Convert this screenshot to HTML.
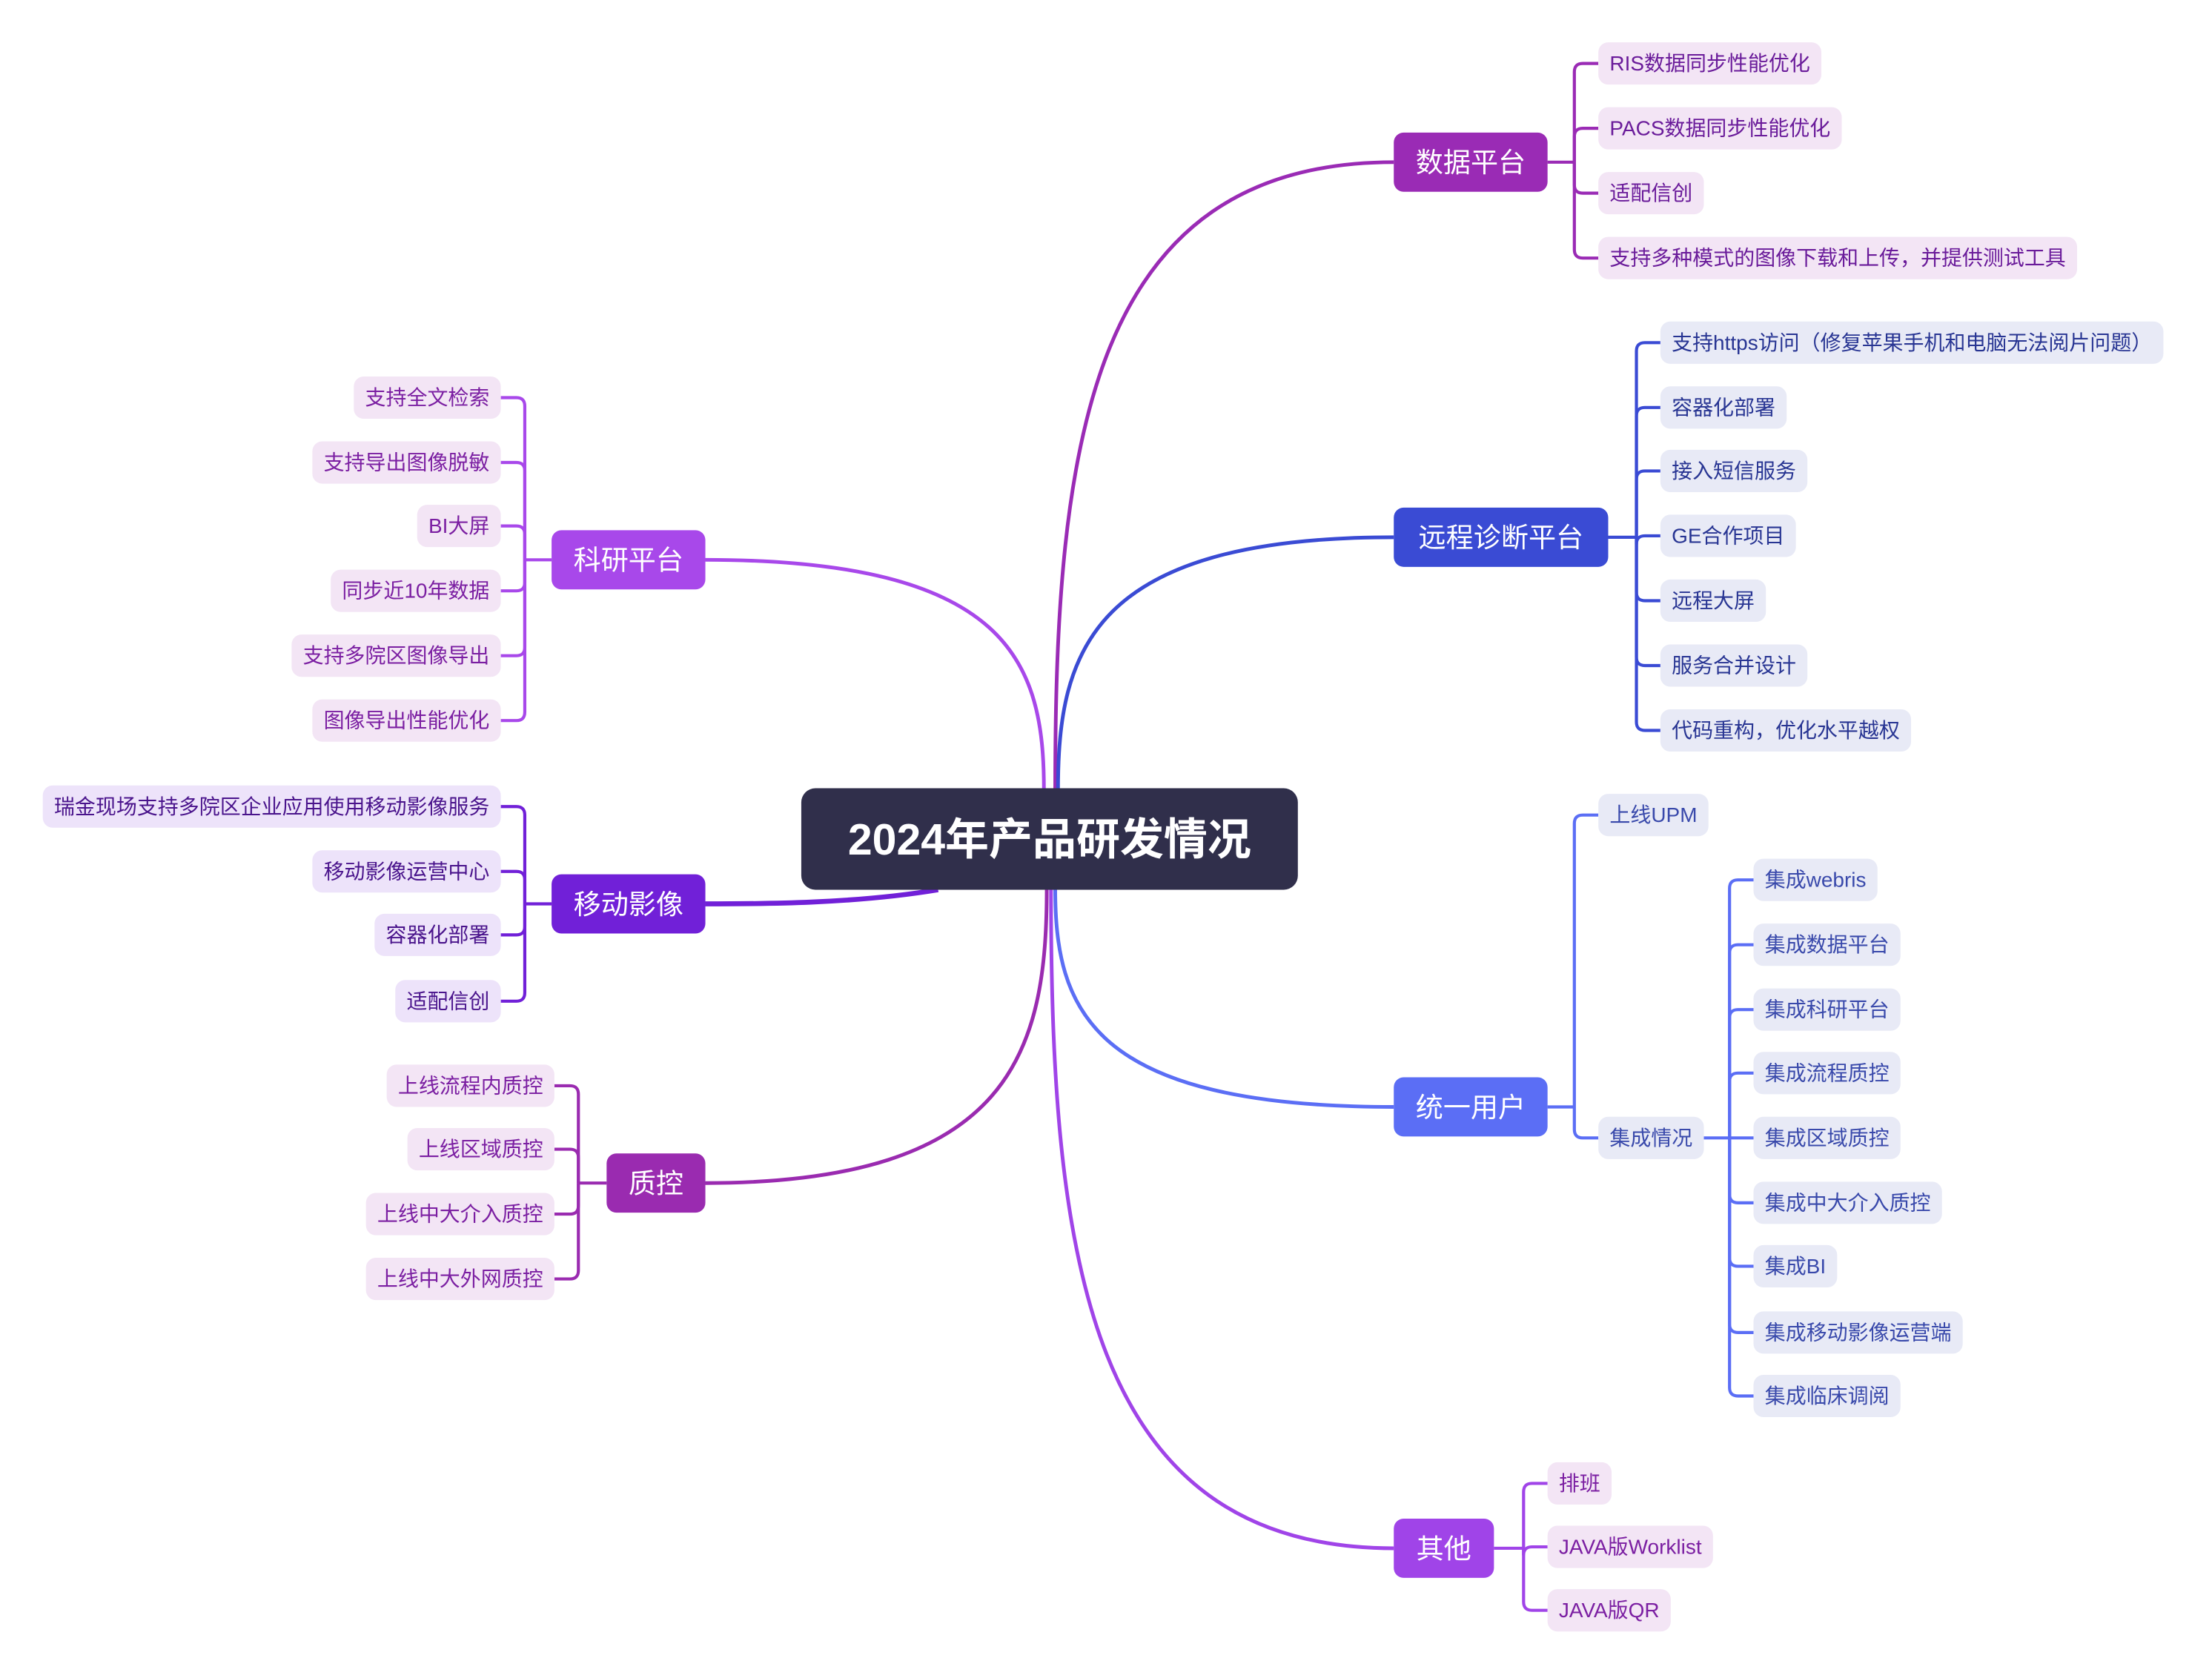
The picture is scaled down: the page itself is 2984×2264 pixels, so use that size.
<!DOCTYPE html>
<html><head><meta charset="utf-8">
<style>
html,body{margin:0;padding:0;background:#fff;}
svg{display:block;}
text{font-family:"Liberation Sans","Noto Sans CJK SC",sans-serif;}
</style></head>
<body>
<svg id="map" width="2984" height="2264" viewBox="0 0 1568 1190" preserveAspectRatio="none" xmlns="http://www.w3.org/2000/svg">
<g id="links"></g>
<g id="nodes"></g>
</svg>
<script>
// Branch data
const branchNames = ["数据平台","远程诊断平台","统一用户","其他","科研平台","移动影像","质控"];
const branchSides = ["R","R","R","R","L","L","L"];
const branchColors = ["#9a2bb5","#3a4bd4","#5b6ef5","#a044e8","#a848ea","#7120d8","#9a2bb0"];
const branchBox = [[988,94,109],[988,360,152],[988,764,109],[988,1077,71],[391,376,109],[391,620,109],[430,818,70]];
const branchStart = [[748,560],[750,560],[748,630],[745,630],[740,560],[665,631],[742,630]];
const leafBg = ["#f3e5f5","#e8eaf6","#e8eaf6","#f3e5f5","#f3e5f5","#ede3fa","#f3e5f5"];
const leafFg = ["#6a1b9a","#283593","#3949ab","#7b1fa2","#7b1fa2","#4a148c","#7b1fa2"];
const leaves = [
 ["RIS数据同步性能优化","PACS数据同步性能优化","适配信创","支持多种模式的图像下载和上传，并提供测试工具"],
 ["支持https访问（修复苹果手机和电脑无法阅片问题）","容器化部署","接入短信服务","GE合作项目","远程大屏","服务合并设计","代码重构，优化水平越权"],
 ["上线UPM","集成情况"],
 ["排班","JAVA版Worklist","JAVA版QR"],
 ["支持全文检索","支持导出图像脱敏","BI大屏","同步近10年数据","支持多院区图像导出","图像导出性能优化"],
 ["瑞金现场支持多院区企业应用使用移动影像服务","移动影像运营中心","容器化部署","适配信创"],
 ["上线流程内质控","上线区域质控","上线中大介入质控","上线中大外网质控"]
];
const leafY = [
 [45,91,137,183],[243,289,334,380,426,472,518],[578,807],[1052,1097,1142],
 [282,328,373,419,465,511],[572,618,663,710],[770,815,861,907]
];
const bracketX = [1116,1160,1116,1080,372,372,410];
const subLeaves = ["集成webris","集成数据平台","集成科研平台","集成流程质控","集成区域质控","集成中大介入质控","集成BI","集成移动影像运营端","集成临床调阅"];
const subY = [624,670,716,761,807,853,898,945,990];

const NS="http://www.w3.org/2000/svg";
const links=document.getElementById('links'), nodes=document.getElementById('nodes');
function mk(tag,attrs,parent){const e=document.createElementNS(NS,tag);for(const k in attrs)e.setAttribute(k,attrs[k]);parent.appendChild(e);return e;}

function bracket(x,ys,y0,fromX,color,dir,parent){
  const r=6;
  let d=`M${fromX},${y0} L${x},${y0} `;
  mk('path',{d,stroke:color,'stroke-width':2.2,fill:'none'},parent);
  ys.forEach(y=>{
    const tx=x+dir*17;
    let p;
    if(Math.abs(y-y0)<1) p=`M${x},${y} L${tx},${y}`;
    else { const s=y>y0?1:-1; p=`M${x},${y0} L${x},${y-s*r} Q${x},${y} ${x+dir*r},${y} L${tx},${y}`; }
    const e=mk('path',{d:p,stroke:color,'stroke-width':2.2,fill:'none'},parent);
    
    
  });
}

function leaf(text,x,y,dir,bg,fg,name){
  const g=mk('g',{},nodes);
  
  
  const rect=mk('rect',{y:y-15,height:30,rx:7,fill:bg},g);
  const t=mk('text',{y:y+5,'font-size':14.7,fill:fg},g);
  t.textContent=text;
  const w=t.getComputedTextLength();
  const pw=w+16;
  const left= dir>0 ? x : x-pw;
  rect.setAttribute('x',left); rect.setAttribute('width',pw);
  t.setAttribute('x',left+8);
  return left+pw;
}

const cg=mk('g',{},nodes);


mk('rect',{x:568,y:559,width:352,height:72,rx:10,fill:'#302f4b'},cg);
const ct=mk('text',{x:744,y:606,'font-size':31,'font-weight':'bold',fill:'#fff','text-anchor':'middle'},cg);
ct.textContent="2024年产品研发情况";

branchNames.forEach((nm,i)=>{
  const [bx,by,bw]=branchBox[i], col=branchColors[i], side=branchSides[i];
  const cy=by+21;
  const [sx,sy]=branchStart[i];
  const ex= side==="R"?bx:bx+bw;
  const thick = i===5?3.5:2.6;
  const path = i===5
    ? `M${sx},${sy} C${sx-60},${cy} ${ex+40},${cy} ${ex},${cy}`
    : `M${sx},${sy} C${sx},${sy+(cy-sy)*0.55} ${sx+(ex-sx)*0.1},${cy} ${ex},${cy}`;
  const pe=mk('path',{d:path,stroke:col,'stroke-width':thick,fill:'none'},links);
  
  
  const g=mk('g',{},nodes);
  
  
  mk('rect',{x:bx,y:by,width:bw,height:42,rx:7,fill:col},g);
  const t=mk('text',{x:bx+bw/2,y:cy+7,'font-size':19.5,fill:'#fff','text-anchor':'middle'},g);
  t.textContent=nm;
  const dir= side==="R"?1:-1;
  const fromX= side==="R"?bx+bw:bx;
  bracket(bracketX[i],leafY[i],cy,fromX,col,dir,links);
  leaves[i].forEach((lt,j)=>{
    const lx=bracketX[i]+dir*17;
    const right=leaf(lt,lx,leafY[i][j],dir,leafBg[i],leafFg[i],'leaf-item');
    if(i===2 && j===1){
      bracket(1226,subY,leafY[i][j],right,col,1,links);
      subLeaves.forEach((s,k)=>leaf(s,1243,subY[k],1,leafBg[i],leafFg[i],'sub-leaf-item'));
    }
  });
});
</script>
</body></html>
